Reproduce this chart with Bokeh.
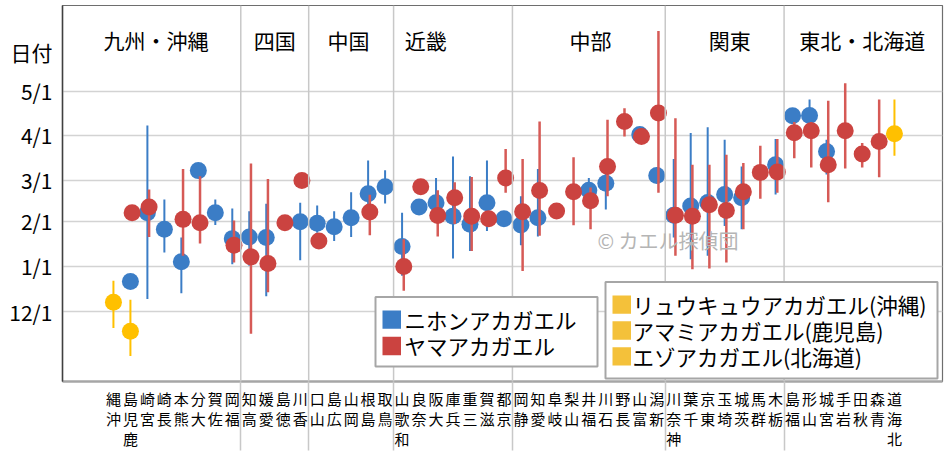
import math
from bokeh.plotting import figure
from bokeh.models import FixedTicker, Span, Label, BoxAnnotation, ColumnDataSource
from bokeh.embed import file_html
from bokeh.resources import INLINE

N = float("nan")

prefectures = ["沖縄", "鹿児島", "宮崎", "長崎", "熊本", "大分", "佐賀", "福岡",
               "高知", "愛媛", "徳島", "香川",
               "山口", "広島", "岡山", "島根", "鳥取",
               "和歌山", "奈良", "大阪", "兵庫", "三重", "滋賀", "京都",
               "静岡", "愛知", "岐阜", "山梨", "福井", "石川", "長野", "富山", "新潟",
               "神奈川", "千葉", "東京", "埼玉", "茨城", "群馬", "栃木",
               "福島", "山形", "宮城", "岩手", "秋田", "青森", "北海道"]
region_names = ["九州・沖縄", "四国", "中国", "近畿", "中部", "関東", "東北・北海道"]
region_sizes = [8, 4, 5, 7, 9, 7, 7]
region_label_x = [3.5, 10.5, 14.85, 19.4, 29.1, 37.3, 45.1]

# values = days counted from 12/1 (12/1=0, 1/1=31, 2/1=62, 3/1=90, 4/1=121, 5/1=151)
nihon_mid = [N, 20.7, 67.7, 56.4, 34.1, 96.6, 67.7, 50.0,
             51.1, 50.7, N, 61.6,
             60.5, 58.2, 64.3, 80.7, 85.5,
             44.6, 71.6, 74.6, 65.4, 59.8, 74.6, 63.7,
             59.3, 64.3, N, N, 83.2, 88.0, N, 121.3, 93.3,
             66.0, 72.3, 74.8, 80.2, 78.0, N, 100.7,
             134.2, 134.3, 109.7, N, N, N, N]
nihon_low = [N, N, 8.7, 40.5, 12.5, N, 59.3, 32.5,
             31.4, 10.5, N, 35.2,
             54.1, 48.4, 51.1, 70.0, 74.1,
             24.5, N, 66.0, 36.4, 41.6, 55.2, N,
             45.5, 51.4, N, N, 76.0, 70.0, N, N, N,
             50.7, 35.9, 38.2, 58.6, 56.4, N, 80.2,
             N, 130.0, 93.9, N, N, N, N]
nihon_high = [N, N, 127.5, 76.8, 50.7, N, 76.8, 70.7,
              68.8, 73.9, N, 74.6,
              72.7, 68.8, 81.8, 103.6, 96.8,
              67.8, N, 91.6, 106.3, 92.7, 103.6, N,
              79.1, 97.7, N, N, 91.6, 95.0, N, N, N,
              104.6, 122.3, 126.4, 117.7, 99.5, N, 118.2,
              N, 145.4, 117.7, N, N, N, N]

yama_mid = [N, 67.7, 71.6, N, 63.2, 60.9, N, 45.5,
            37.5, 33.0, 60.9, 89.8,
            48.4, N, N, 68.2, N,
            30.9, 85.5, 65.9, 78.0, 65.4, 63.7, 91.6,
            68.4, 83.0, 68.9, 82.1, 75.9, 99.5, 130.2, 120.0, 136.1,
            66.0, 65.4, 73.2, 69.3, 82.1, 95.4, 95.7,
            122.5, 123.9, 100.7, 123.9, 108.0, 116.6, N]
yama_low = [N, N, 51.1, N, 38.2, 46.6, N, 33.7,
            -15.2, 13.2, N, N,
            N, N, N, 52.3, N,
            14.3, N, 51.4, 60.0, 41.6, N, 81.4,
            27.9, 52.0, N, 59.1, 56.4, 79.1, 120.0, N, 81.4,
            38.2, 29.1, 29.6, 33.7, 56.4, 77.3, 81.4,
            105.0, 98.8, 75.0, 98.0, 98.8, 92.0, N]
yama_high = [N, N, 83.6, N, 97.7, 92.7, N, 62.5,
             101.4, 90.9, N, N,
             N, N, N, 80.0, N,
             49.6, N, 83.2, 88.6, 92.3, N, 111.4,
             104.6, 130.2, N, 105.7, 85.0, 131.4, 139.3, N, 192.2,
             132.5, 100.7, 100.7, 107.5, 101.8, 113.6, 118.2,
             130.0, 130.0, 144.5, 156.4, 115.5, 145.4, N]

other_species = ["リュウキュウアカガエル(沖縄)", "アマミアカガエル(鹿児島)", "エゾアカガエル(北海道)"]
other_pref = ["沖縄", "鹿児島", "北海道"]
other_mid = [6.4, -13.4, 121.8]
other_low = [-11.3, -30.4, 106.8]
other_high = [21.1, 8.2, 145.4]

main_species = ["ニホンアカガエル", "ヤマアカガエル"]

ytick_values = [0, 31, 62, 90, 121, 151]
ytick_labels = ["12/1", "1/1", "2/1", "3/1", "4/1", "5/1"]
y_title = "日付"

BLUE = "#3b7dc6"
RED = "#cb4340"
RED_BAR = "#d65a56"
YELLOW = "#ffc000"
YELLOW_LEG = "#f4c13a"
FONT = "Noto Sans CJK JP"

X0, X1 = -2, 49.83
Y0, Y1 = -47.9, 209.75
FRAME_W, FRAME_H = 880, 378
LEFT, TOP, BOTTOM = 62, 5, 69
PX_PER_X = FRAME_W / (X1 - X0)
PX_PER_DAY = FRAME_H / (Y1 - Y0)


def dx(px):  # page pixel -> x data
    return X0 + (px - LEFT) / PX_PER_X


def dy(py):  # page pixel -> y data
    return Y1 - (py - TOP) / PX_PER_DAY


p = figure(width=LEFT + FRAME_W + 3, height=TOP + FRAME_H + BOTTOM,
           x_range=(X0, X1), y_range=(Y0, Y1),
           output_backend="svg", toolbar_location=None,
           min_border_left=LEFT, min_border_right=3, min_border_top=TOP,
           min_border_bottom=BOTTOM)
p.background_fill_color = "white"
p.border_fill_color = "white"
p.outline_line_color = "#6e6e6e"
p.outline_line_width = 1.2

# region separators
bounds = []
acc = 0
for s in region_sizes[:-1]:
    acc += s
    bounds.append(acc + 0.5)
for b in bounds:
    p.add_layout(Span(location=b, dimension="height", line_color="#c8c8c8", line_width=1.5))

xpos = {name: i + 1 for i, name in enumerate(prefectures)}


def series(mid, low, high, shift):
    xs, ys = [], []
    bx, bl, bh = [], [], []
    for i, name in enumerate(prefectures):
        if not math.isnan(mid[i]):
            xs.append(xpos[name] + shift)
            ys.append(mid[i])
        if not math.isnan(low[i]) and not math.isnan(high[i]):
            bx.append(xpos[name] + shift)
            bl.append(low[i])
            bh.append(high[i])
    return (ColumnDataSource(dict(x=xs, y=ys)), ColumnDataSource(dict(x=bx, lo=bl, hi=bh)))


bpts, bbars = series(nihon_mid, nihon_low, nihon_high, 0.0)
rpts, rbars = series(yama_mid, yama_low, yama_high, 0.1)
opts = ColumnDataSource(dict(x=[xpos[n] for n in other_pref], y=other_mid,
                             lo=other_low, hi=other_high))

p.segment(x0="x", y0="lo", x1="x", y1="hi", source=bbars, line_color=BLUE, line_width=2)
p.scatter(x="x", y="y", source=bpts, size=17, fill_color=BLUE, line_color=None)
p.segment(x0="x", y0="lo", x1="x", y1="hi", source=rbars, line_color=RED_BAR, line_width=2.5)
p.scatter(x="x", y="y", source=rpts, size=17, fill_color=RED, line_color=None)
p.segment(x0="x", y0="lo", x1="x", y1="hi", source=opts, line_color=YELLOW, line_width=2)
p.scatter(x="x", y="y", source=opts, size=17, fill_color=YELLOW, line_color=None)

# y axis
p.xgrid.visible = False
p.ygrid.ticker = FixedTicker(ticks=ytick_values)
p.ygrid.grid_line_color = "#d3d3d3"
p.ygrid.grid_line_width = 1.5

title_pos = dy(52)
p.yaxis.ticker = FixedTicker(ticks=ytick_values + [title_pos])
ov = {v: l for v, l in zip(ytick_values, ytick_labels)}
ov[title_pos] = y_title
p.yaxis.major_label_overrides = ov
p.yaxis.major_label_text_font = FONT
p.yaxis.major_label_text_font_size = "21px"
p.yaxis.major_label_text_color = "black"
p.yaxis.major_label_standoff = 10
p.yaxis.major_tick_out = 0
p.yaxis.major_tick_in = 0
p.yaxis.minor_tick_out = 0
p.yaxis.minor_tick_in = 0
p.yaxis.axis_line_color = "#404040"
p.yaxis.axis_line_width = 1.5

# x axis: names as stacked upright characters, separators as long minor ticks
p.xaxis.ticker = FixedTicker(ticks=[xpos[n] for n in prefectures], minor_ticks=bounds)
p.xaxis.major_label_overrides = {xpos[n]: "\n".join(reversed(n)) for n in prefectures}
p.xaxis.major_label_text_font = FONT
p.xaxis.major_label_text_font_size = "15px"
p.xaxis.major_label_text_line_height = 0.97
p.xaxis.major_label_text_color = "black"
p.xaxis.major_tick_out = 0
p.xaxis.major_tick_in = 0
p.xaxis.minor_tick_in = 0
p.xaxis.minor_tick_out = BOTTOM
p.xaxis.major_label_standoff = -BOTTOM + 6
p.xaxis.minor_tick_line_color = "#c8c8c8"
p.xaxis.minor_tick_line_width = 1.5
p.xaxis.axis_line_color = "#a6a6a6"
p.xaxis.axis_line_width = 2.5

# region labels
for name, x in zip(region_names, region_label_x):
    p.add_layout(Label(x=x, y=dy(40), text=name, text_font=FONT,
                       text_font_size="21px", text_align="center", text_baseline="middle",
                       text_color="black"))

p.add_layout(Label(x=dx(597), y=dy(241), text="© カエル探偵団", text_font=FONT,
                   text_font_size="20px", text_align="left", text_baseline="middle",
                   text_color="#b5b5b5"))


# legends (drawn as boxes + labels)
def legend_box(left, right, top, bottom, labels, colors, row_top, row_step, sq_left, text_left):
    p.add_layout(BoxAnnotation(left=dx(left), right=dx(right), top=dy(top), bottom=dy(bottom),
                               fill_color="white", fill_alpha=1, line_color="#a6a6a6",
                               line_width=2, line_alpha=1, level="annotation"))
    for k, (lab, col) in enumerate(zip(labels, colors)):
        cy = row_top + k * row_step
        p.add_layout(BoxAnnotation(left=dx(sq_left), right=dx(sq_left + 18.5),
                                   top=dy(cy - 9), bottom=dy(cy + 9.5),
                                   fill_color=col, fill_alpha=1, line_color=None,
                                   level="annotation"))
        p.add_layout(Label(x=dx(text_left), y=dy(cy), text=lab, text_font=FONT,
                           text_font_size="21.5px", text_align="left",
                           text_baseline="middle", text_color="black"))


legend_box(375, 597, 298, 368, main_species, [BLUE, RED], 320.5, 26.5, 382, 404)
legend_box(605, 937, 283, 380, other_species, [YELLOW_LEG] * 3, 305.5, 26, 612, 632)

open("out.html", "w").write(file_html(p, INLINE))
